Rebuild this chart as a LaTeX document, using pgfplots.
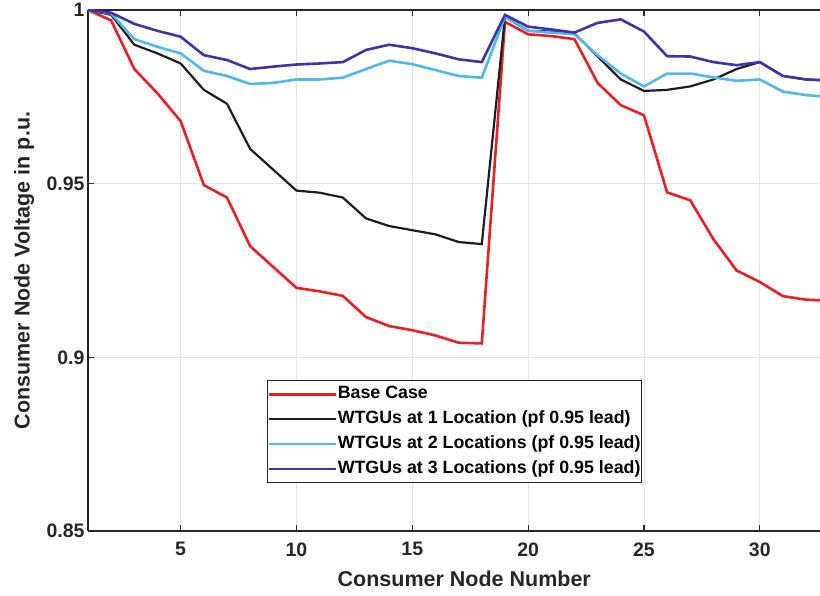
\documentclass[border=0pt]{standalone}
\usepackage{fontspec}
\setmainfont{Liberation Sans}
\usepackage{pgfplots}
\pgfplotsset{compat=1.18}
\definecolor{baseRed}{RGB}{232,32,38}
\definecolor{oneBlk}{RGB}{30,30,30}
\definecolor{twoBlu}{RGB}{80,185,235}
\definecolor{thrBlu}{RGB}{62,52,168}

\pgfplotstableread{
x base one two three
1 1.000 1.000 1.000 1.000
2 0.997 0.9986 0.999 0.9992
3 0.983 0.990 0.9916 0.996
4 0.976 0.9875 0.9894 0.994
5 0.968 0.9846 0.9875 0.9923
6 0.9496 0.977 0.9825 0.987
7 0.946 0.973 0.981 0.9856
8 0.932 0.960 0.9787 0.983
9 0.926 0.954 0.979 0.9837
10 0.920 0.948 0.980 0.9843
11 0.919 0.9474 0.980 0.9846
12 0.9177 0.946 0.9805 0.985
13 0.9116 0.940 0.983 0.9885
14 0.909 0.9378 0.9854 0.990
15 0.9078 0.9366 0.9844 0.989
16 0.9063 0.9354 0.9827 0.9875
17 0.9042 0.9332 0.981 0.9858
18 0.904 0.9326 0.9805 0.985
19 0.9966 0.998 0.998 0.9986
20 0.993 0.994 0.994 0.9952
21 0.9925 0.9938 0.9935 0.9944
22 0.9916 0.9933 0.993 0.9935
23 0.979 0.9866 0.987 0.9963
24 0.9726 0.980 0.9817 0.9973
25 0.9697 0.9767 0.978 0.9938
26 0.9475 0.977 0.9817 0.9867
27 0.9452 0.978 0.9817 0.9866
28 0.934 0.980 0.9806 0.985
29 0.925 0.983 0.9796 0.9841
30 0.9217 0.985 0.980 0.985
31 0.9176 0.981 0.9765 0.981
32 0.9166 0.980 0.9755 0.980
33 0.9163 0.9797 0.975 0.9797
}\voltdata

\begin{document}
\begin{tikzpicture}
\begin{axis}[
  name=ax,
  scale only axis, width=732pt, height=521pt,
  xmin=1, xmax=32.6, ymin=0.85, ymax=1,
  axis x line*=box, axis y line*=left,
  axis line style={line width=1.2pt, black!85},
  xtick={5,10,15,20,25,30},
  ytick={0.85,0.9,0.95,1}, yticklabels={0.85,0.9,0.95,1},
  tick align=inside, major tick length=6pt,
  tick style={line width=1.2pt, black!85},
  xmajorgrids, ymajorgrids, grid style={gray!22, line width=0.6pt},
  /pgf/number format/assume math mode=true,
  tick label style={font=\bfseries\fontsize{19.5}{20}\selectfont, black!85},
  xticklabel style={yshift=-8pt},
  label style={font=\bfseries\fontsize{21.5}{22}\selectfont, black!85},
  xlabel={Consumer Node Number},
  xlabel style={at={(axis description cs:0.514,0)}, anchor=north, yshift=-36pt},
  ylabel={Consumer Node Voltage in p.u.},
  ylabel style={at={(axis description cs:-0.0874,0.5)}, anchor=center},
  legend cell align=left,
  legend style={at={(axis description cs:0.244,0.29)}, anchor=north west,
    draw=black!85, line width=1.2pt, inner xsep=0pt, inner ysep=1.5pt,
    font=\bfseries\fontsize{17.8}{18}\selectfont,
    nodes={text height=13pt, text depth=4pt, inner ysep=3.9pt, inner xsep=1pt},
    row sep=0pt},
  legend image code/.code={\draw[#1] (-1pt,0pt) -- (66pt,0pt);},
]
\addplot[baseRed, line width=2.6pt] table[x=x, y=base] {\voltdata};
\addplot[oneBlk, line width=2.2pt] table[x=x, y=one] {\voltdata};
\addplot[twoBlu, line width=2.6pt] table[x=x, y=two] {\voltdata};
\addplot[thrBlu, line width=2.6pt] table[x=x, y=three] {\voltdata};
\legend{Base Case, WTGUs at 1 Location (pf 0.95 lead), WTGUs at 2 Locations (pf 0.95 lead), WTGUs at 3 Locations (pf 0.95 lead)}
\end{axis}
\pgfresetboundingbox
\path ([xshift=-88pt,yshift=-65pt]ax.south west) rectangle ([yshift=10pt]ax.north east);
\end{tikzpicture}
\end{document}
